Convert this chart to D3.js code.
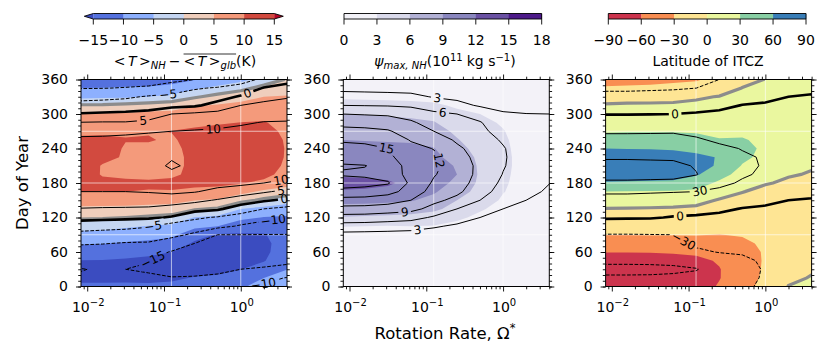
<!DOCTYPE html>
<html>
<head>
<meta charset="utf-8">
<script src="https://cdn.jsdelivr.net/npm/d3@7"></script>
<style>
  body { margin: 0; background: #fff; }
  svg { display: block; font-family: "DejaVu Sans", sans-serif; }
  text { white-space: pre; }
</style>
</head>
<body>
<svg id="chart" width="831" height="360"></svg>
<script>
//======= data =======//
// grid: columns = log10(rotation rate), rows = day of year
let rotationLog = [-2.1, -1.8, -1.5, -1.2, -0.9, -0.6, -0.3, 0.0, 0.3, 0.6];
let dayOfYear = [0, 15, 30, 45, 60, 75, 90, 105, 120, 135, 150, 165, 180, 195, 210, 225, 240, 255, 270, 285, 300, 315, 330, 345, 360];

// <T>_NH - <T>_glb (K), filled field
let tempFill = [
  [-14, -16.3, -16.8, -15.1, -12.4, -9.6, -6.6, -3.2, 0.7, 4.1, 7.1, 10, 11.8, 13, 13.5, 13.3, 12.5, 10.8, 9.1, 7.3, 5.6, 0.5, -6.3, -10, -12.5],
  [-14, -16.3, -16.8, -15.2, -12.6, -9.8, -6.8, -3.4, 0.5, 4, 7, 9.9, 11.2, 9.6, 9.6, 11.5, 12.4, 10.9, 9.2, 7.4, 5.7, 0.6, -6, -9.9, -12.4],
  [-14, -16.2, -16.8, -15.6, -13.2, -10.5, -7.4, -4.3, 0, 3.8, 7, 10, 10.5, 9.5, 9.4, 9.4, 9.5, 10.2, 9.5, 7.5, 5.7, 1.2, -5.8, -9.6, -12.2],
  [-14.2, -16.2, -16.9, -16, -14, -11.2, -8, -5.2, -0.6, 3.4, 6.8, 9.9, 10.3, 9.5, 9.2, 9.3, 9.5, 10.2, 9.8, 7.8, 6.2, 2, -5, -9.5, -12],
  [-14.3, -15.5, -16.8, -16.5, -15, -12, -8.9, -6, -1.4, 2.9, 6.6, 9.8, 10.8, 9.4, 9.2, 9.2, 9.3, 9.6, 10.1, 8.4, 6.4, 2.8, -3.6, -8.8, -11.5],
  [-13.8, -14.8, -16.5, -17, -16.6, -15.8, -13, -8.8, -5.2, 0.6, 5.1, 8.9, 11.2, 10.9, 10.7, 10.7, 10.9, 11.2, 10.8, 9, 6.8, 4.7, -0.6, -5.8, -10.3],
  [-13, -14.4, -16, -17, -17.2, -16.8, -15.5, -10, -6.1, -0.5, 4.4, 8.3, 11.2, 12.8, 13.4, 13.4, 13, 12.3, 11.2, 9.6, 7.4, 5.4, 1.5, -3.5, -8.7],
  [-10.5, -13, -15.1, -16.5, -17, -16.8, -15.6, -12.8, -8.8, -5, 1.6, 6.5, 10.3, 12.2, 13, 13.2, 13, 12.4, 11.4, 10.1, 8.2, 6.3, 3.2, -1.4, -6.5],
  [-8.5, -10, -13, -15.3, -16, -16, -15.3, -13.4, -10.2, -6.4, -1, 4, 9, 11.3, 12.3, 12.6, 12.4, 11.9, 11.1, 10.3, 8.7, 6.8, 5, 1.5, -2.8],
  [-7.5, -8.7, -10.1, -11.5, -12.5, -13, -12.8, -12, -10.6, -7.4, -3.2, 2.8, 7, 8.4, 9.2, 9.6, 9.7, 9.6, 9.3, 8.6, 7.6, 6.4, 5.4, 2.8, 0.4]
];
// <T>_NH - <T>_glb (K), line contours
let tempLines = [
  [-13.2, -14.8, -15.1, -14, -12.2, -9.5, -6.6, -2.6, 1.5, 4.8, 7.4, 10, 11.6, 12.6, 13, 13, 12.3, 11, 8.3, 5.2, 0.3, -3.3, -6.6, -10.2, -12.3],
  [-13.3, -14.6, -14.8, -14, -12.4, -9.8, -6.9, -3.3, 1.3, 4.6, 7.3, 10, 11.7, 12.7, 13.1, 13.1, 12.4, 11.1, 8.5, 5.4, 0.6, -2.8, -6.4, -10.1, -12.2],
  [-13.5, -14.6, -15, -14.2, -12.7, -10.3, -7.3, -3.7, 1, 4.5, 7.3, 10, 11.8, 12.8, 13.3, 13.3, 12.6, 11.3, 9, 5.4, 0.8, -2.3, -5.8, -9.8, -12],
  [-13.8, -14.6, -15.3, -14.9, -13.2, -10.4, -7.8, -4.6, 0.7, 4.3, 7.4, 10.3, 12.3, 13.6, 14.2, 14, 13.2, 11.8, 9.5, 6.5, 1.6, -2.2, -4.5, -9.4, -11.8],
  [-14, -14.9, -15.8, -16, -15.3, -12.3, -8.8, -7.5, -0.4, 3.2, 7.2, 11, 13, 14.6, 15.3, 14.8, 13.8, 12.2, 10, 7.6, 5, -1.6, -3.8, -7.5, -11.3],
  [-13.7, -14.8, -15.8, -16.5, -16.2, -15, -10.8, -7.6, -4.2, 2, 6.1, 10.3, 12.7, 14, 14.5, 14.3, 13.6, 12.3, 10.3, 8.2, 5.9, -0.8, -3, -5.4, -10],
  [-13, -14.5, -15.6, -16.4, -16.6, -16, -15, -8.6, -5.5, 0.8, 4.6, 8.6, 11.7, 13.2, 13.8, 13.7, 13.2, 12.1, 10.6, 8.6, 6.5, 1.9, -2, -4.6, -8.5],
  [-10.2, -12.6, -15, -16, -16.4, -16.2, -15, -10.5, -7, -2.6, 2.8, 7, 11.2, 12.8, 13.5, 13.5, 13.1, 12.2, 11, 9.5, 7.3, 5, 0.6, -3.2, -7],
  [-9.4, -11.3, -14.8, -15.6, -16, -15.9, -15.1, -12, -8.5, -5, 0.7, 5.6, 10, 12, 12.8, 13, 12.7, 12, 11, 10.2, 8.3, 6.2, 3.4, 0.3, -4],
  [-8.8, -9.8, -14.5, -15.4, -15.8, -15.7, -15.1, -12.6, -9.8, -6.2, -1, 3.8, 8.8, 11.4, 12.5, 12.8, 12.6, 12, 11.2, 10.3, 8.6, 6.7, 4.6, 2, -2]
];
// psi_max,NH (1e11 kg/s), filled field
let psiFill = [
  [0.3, 0.3, 0.4, 0.5, 0.7, 1, 1.8, 3.1, 5.8, 7.9, 9.9, 11.6, 13.4, 11.4, 10.8, 10.4, 9.8, 9, 8.1, 7, 6, 4.2, 2.5, 1.3, 0.7],
  [0.3, 0.3, 0.4, 0.5, 0.7, 1, 1.7, 3, 5.6, 7.8, 9.8, 11.5, 13, 11.3, 10.7, 10.3, 9.7, 8.9, 8, 6.9, 5.9, 4.1, 2.4, 1.3, 0.7],
  [0.3, 0.3, 0.4, 0.5, 0.7, 1, 1.6, 2.9, 5.4, 7.6, 9.6, 11.2, 12.4, 11.1, 10.6, 10.2, 9.6, 8.8, 7.9, 6.8, 5.7, 4, 2.3, 1.2, 0.7],
  [0.3, 0.3, 0.3, 0.4, 0.6, 0.9, 1.5, 3, 5.2, 7.4, 9.2, 10.5, 11.2, 11, 10.6, 10.1, 9.5, 8.7, 7.7, 6.6, 5.4, 3.8, 2.2, 1.2, 0.7],
  [0.2, 0.3, 0.3, 0.4, 0.6, 0.9, 1.4, 2.9, 4.6, 6.6, 8.2, 9.3, 9.9, 10.1, 10, 9.6, 9.1, 8.3, 7.3, 6.2, 5, 3.5, 2, 1.1, 0.6],
  [0.2, 0.2, 0.3, 0.4, 0.5, 0.8, 1.2, 2.3, 3.5, 4.9, 6, 7.3, 8.5, 9, 8.8, 8, 7, 6.2, 5.4, 4.4, 3.6, 2.6, 1.6, 0.9, 0.5],
  [0.2, 0.2, 0.2, 0.3, 0.4, 0.6, 0.9, 1.6, 2.4, 3.3, 4.2, 5, 5.4, 5.6, 5.5, 5.3, 4.9, 4.5, 4, 3.5, 3, 2.2, 1.3, 0.8, 0.4],
  [0.1, 0.1, 0.2, 0.2, 0.3, 0.4, 0.6, 1, 1.5, 2.1, 2.7, 3.1, 3.3, 3.4, 3.5, 3.5, 3.4, 3.3, 3.1, 2.8, 2.3, 1.6, 1, 0.6, 0.3],
  [0.1, 0.1, 0.1, 0.2, 0.2, 0.3, 0.4, 0.7, 1, 1.4, 1.7, 2, 2.1, 2.2, 2.2, 2.2, 2.2, 2.1, 2, 1.8, 1.5, 1.1, 0.7, 0.4, 0.2],
  [0.1, 0.1, 0.1, 0.1, 0.2, 0.2, 0.3, 0.5, 0.7, 0.9, 1.1, 1.3, 1.4, 1.4, 1.5, 1.5, 1.5, 1.4, 1.3, 1.2, 1, 0.8, 0.5, 0.3, 0.2]
];
// psi_max,NH (1e11 kg/s), line contours
let psiLines = [
  [0.2, 0.2, 0.3, 0.5, 0.8, 1.3, 2.2, 4.8, 7.9, 11, 14, 17, 19.5, 17.7, 18.3, 16.8, 15.8, 14.7, 13, 11, 9, 6, 4.1, 2.3, 1.2],
  [0.2, 0.2, 0.3, 0.5, 0.8, 1.3, 2.1, 4.7, 7.8, 10.9, 13.9, 16.8, 19, 17.5, 18.1, 16.5, 15.6, 14.5, 12.8, 10.8, 8.8, 5.9, 4, 2.2, 1.2],
  [0.2, 0.2, 0.3, 0.5, 0.8, 1.2, 2, 4.5, 7.4, 10.5, 13.3, 16, 18.3, 16.7, 16.8, 15.6, 15, 13.8, 12.3, 10.5, 8.6, 5.8, 3.9, 2.1, 1.1],
  [0.2, 0.2, 0.3, 0.4, 0.7, 1.2, 1.9, 4.2, 7, 9.9, 12, 13.8, 14.4, 14, 13.8, 13.4, 12.8, 11.8, 10.6, 9.4, 7.9, 5.5, 3.7, 2, 1.1],
  [0.2, 0.2, 0.3, 0.4, 0.7, 1.1, 1.8, 3.3, 5.6, 8, 9.7, 10.8, 11.6, 12.2, 12.6, 12.5, 11.9, 10.5, 9, 7.8, 6.5, 4.8, 2.8, 1.7, 1],
  [0.2, 0.2, 0.3, 0.4, 0.6, 1, 1.6, 2.6, 4.2, 6, 8.2, 9.6, 10.2, 10.5, 10.4, 10, 9.5, 8.6, 7.6, 6.8, 6, 3.8, 2.4, 1.5, 0.9],
  [0.2, 0.2, 0.2, 0.3, 0.5, 0.9, 1.4, 2.2, 3, 4.5, 6, 7.2, 7.9, 8.3, 8.4, 8.2, 7.8, 7.2, 6.6, 6.2, 4.8, 2.7, 2, 1.3, 0.8],
  [0.1, 0.2, 0.2, 0.3, 0.4, 0.7, 1.1, 1.7, 2.4, 3, 3.9, 4.8, 5.4, 5.9, 6.2, 6.3, 6.2, 5.7, 5, 4.1, 3.3, 2.2, 1.6, 1.1, 0.7],
  [0.1, 0.1, 0.2, 0.2, 0.3, 0.6, 0.9, 1.4, 1.9, 2.4, 3, 3.6, 4, 4.3, 4.5, 4.5, 4.4, 4.1, 3.8, 3.4, 3.05, 2.1, 1.5, 1, 0.6],
  [0.1, 0.1, 0.1, 0.2, 0.3, 0.5, 0.7, 1.1, 1.5, 1.9, 2.3, 2.7, 3.05, 3.3, 3.5, 3.5, 3.4, 3.3, 3.2, 3.1, 3, 2, 1.4, 0.9, 0.5]
];
// latitude of ITCZ (deg), filled field
let itczFill = [
  [-75, -78, -76, -70, -59.5, -45, -29.5, -20, -10, -1, 15, 30, 58, 72, 75, 70, 60, 45, 27, 17, 9, 2, -10, -28, -38],
  [-75, -78, -76, -70, -59.5, -45, -29.5, -20, -10, -1.5, 14, 29, 57, 72, 75, 70, 59.5, 45, 28, 18, 10, 3, -9, -27, -37],
  [-74, -77, -75, -69, -59, -44, -29, -19, -10, -2, 13, 28, 56, 71, 74, 69, 59, 45, 28, 18, 10, 3, -8, -26, -36],
  [-73, -76, -74, -68, -58, -43, -29, -19, -10, -3, 12, 27, 55, 70, 73, 68, 58, 44, 28, 18, 10, 3.5, -7, -24, -34],
  [-70, -73, -71, -65, -56, -42, -29, -20, -12, -5, 8, 24, 45, 63, 66, 64, 55, 40, 27, 18, 11, 5, -3, -22, -32],
  [-58, -61, -61, -58, -52, -40, -30.5, -22, -15, -8, -2, 12, 24, 42, 58, 59, 50, 32, 22, 16, 11, 6, 1, -12, -24],
  [-42, -45, -46, -45, -42, -36, -28, -22, -16, -10, -5, 0.5, 8, 18, 28, 37, 40, 33, 22, 16, 11, 7, 4, 0.5, -6],
  [-20, -24, -26, -27, -27, -25, -23, -20, -16, -12, -8, -4, 1, 7, 13, 21, 24, 22, 16, 13, 10, 7, 5, 2.5, 0.5],
  [0.5, -4, -8, -11, -13, -14, -14, -13, -12, -10, -7, -4.5, -2, 1, 5, 9, 11, 12, 11, 10, 9, 8, 7, 6, 5],
  [4, 1, -2, -4, -5, -6, -6.5, -6.5, -6, -5, -4, -3, -2, -0.8, 1, 3, 5, 6, 6, 6, 6, 6, 6, 6, 6]
];
// latitude of ITCZ (deg), line contours
let itczLines = [
  [-50, -58, -64, -57, -48, -40, -31, -16, 3, 12, 22, 33, 57, 66, 68, 57, 50, 40, 26, 12, -1, -12, -23, -34, -40],
  [-50, -58, -64, -57, -48, -40, -31, -16, 2.5, 12, 22, 33, 57, 66, 68, 57, 50, 40, 26, 12, -1, -12, -23, -34, -40],
  [-49, -58, -63.5, -57, -48, -39, -30.5, -16, 2, 11, 21, 32, 56.5, 65.5, 67, 56.5, 49.5, 40, 26.5, 12.5, -0.5, -11.5, -22.5, -33, -39],
  [-48, -57, -63, -56, -47, -38, -30, -17, -1.5, 10, 20, 31, 56, 65, 66, 56, 49, 40, 27, 13, 0, -11, -22, -32, -38],
  [-45, -55, -61, -52, -34, -26, -22, -14, -3, 8, 18, 30, 48, 61, 58, 50, 42, 33, 24, 12, 2, -9, -20, -30, -36],
  [-42, -48, -50, -42, -29, -22, -18, -12, -5, 4, 14, 25, 36, 44, 46, 43, 35, 26, 18, 10, 3, -4, -13, -21, -30],
  [-36, -38, -38, -34, -28, -21, -16, -10, -5, -1, 8, 18, 27, 33, 35, 33, 29, 22, 16, 10, 5, 0.5, -6, -13, -20],
  [-24, -27, -28, -27, -24, -20, -15, -10, -6, -2.5, 4, 12, 20, 26, 28, 28, 25, 20, 14, 9, 5, 1.5, -3, -9, -15],
  [-14, -17, -19, -19, -18, -15, -12, -9, -6, -3, 0, 7, 13, 18, 20, 20, 18, 15, 11, 8, 5, 2.5, 0, -4, -9],
  [-8, -11, -13, -14, -13, -11, -9, -7, -5, -3, -1.2, 4, 9, 13, 15, 15, 14, 12, 9, 7, 4.5, 2.5, 0.8, -2, -6]
];

let tempLevels = [-15, -10, -5, 0, 5, 10, 15];
let psiLevels = [0, 3, 6, 9, 12, 15, 18];
let itczLevels = [-90, -60, -30, 0, 30, 60, 90];

// coolwarm (with under/over), Purples, Spectral
let tempColors = ['#3b4cc0', '#5471de', '#8db0fe', '#c5d6f2', '#efcebc', '#f49a7b', '#d24a3f', '#b40426'];
let psiColors = ['#f3f2f8', '#dadaeb', '#b2b1d5', '#8a87bf', '#6a51a3', '#4d1a89'];
let itczColors = ['#cc344d', '#f98e52', '#fee594', '#eaf79f', '#88cfa4', '#397eb8'];

let xTickValues = [0.01, 0.1, 1];
let xTickExp = ['\u22122', '\u22121', '0'];
let xMinorValues = [0.009, 0.02, 0.03, 0.04, 0.05, 0.06, 0.07, 0.08, 0.09, 0.2, 0.3, 0.4, 0.5, 0.6, 0.7, 0.8, 0.9, 2, 3, 4];
let dayTicks = [0, 60, 120, 180, 240, 300, 360];
let gridRotation = [0.125, 1];
let gridDays = [90, 180, 270];

//======= layout =======//
let svg = d3.select('#chart');
let defs = svg.append('defs');
let plotTop = 79.5, plotBottom = 286.5, plotW = 206;
let panelLeft = [81, 343.3, 605.6];
let xDomain = [0.0083, 4.0];
let y = d3.scaleLinear().domain([0, 360]).range([plotBottom, plotTop]);
let nx = rotationLog.length, ny = dayOfYear.length;
let colIdx = d3.scaleLinear().domain(rotationLog.map((d, i) => i)).range(rotationLog);
let rowIdx = d3.scaleLinear().domain(dayOfYear.map((d, i) => i)).range(dayOfYear);
let minus = v => (v < 0 ? '\u2212' + (-v) : '' + v);

function flat(cols) {
  let v = new Array(nx * ny);
  for (let i = 0; i < nx; i++)
    for (let j = 0; j < ny; j++) v[j * nx + i] = cols[i][j];
  return v;
}

// text made of pieces (sub/superscripts, overline), centred on cx
function richText(parent, pieces, cx, baseY) {
  let g = parent.append('g');
  let pos = 0, overs = [];
  pieces.forEach(pc => {
    let x0 = pos + (pc.dx || 0);
    let t = g.append('text')
      .attr('x', x0).attr('y', baseY + (pc.dy || 0))
      .attr('font-size', pc.size || 14)
      .attr('font-style', pc.it ? 'italic' : 'normal')
      .text(pc.t);
    let w = t.node().getComputedTextLength();
    if (pc.over) overs.push(x0, x0 + w);
    pos = x0 + w;
  });
  if (overs.length) {
    g.append('line').attr('x1', d3.min(overs)).attr('x2', d3.max(overs))
      .attr('y1', baseY - 12).attr('y2', baseY - 12)
      .attr('stroke', 'black').attr('stroke-width', 0.8);
  }
  g.attr('transform', 'translate(' + (cx - pos / 2) + ',0)');
  return g;
}

let panels = [
  { fill: tempFill, lines: tempLines, fillLevels: [-15, -10, -5, 0, 5, 10, 15], colors: tempColors,
    lineLevels: tempLevels, gray: true,
    labels: [[-5, 168, 92], [0, 247, 92], [5, 143, 118], [10, 213, 123], [10, 281, 180], [5, 281, 190],
             [0, 284, 197], [-10, 273, 218], [-5, 153, 225], [-15, 152, 258], [-10, 263, 282]] },
  { fill: psiFill, lines: psiLines, fillLevels: [3, 6, 9, 12, 15], colors: psiColors,
    lineLevels: [3, 6, 9, 12, 15, 18], gray: false,
    labels: [[3, 437, 100], [6, 443, 110], [15, 388, 142], [12, 442, 160], [9, 405, 217], [3, 418, 233]] },
  { fill: itczFill, lines: itczLines, fillLevels: [-60, -30, 0, 30, 60], colors: itczColors,
    lineLevels: itczLevels, gray: true,
    labels: [[0, 675, 112], [30, 700, 192], [0, 680, 214], [-30, 683, 242]] }
];

//======= panels =======//
panels.forEach((p, k) => {
  let left = panelLeft[k];
  let x = d3.scaleLog().domain(xDomain).range([left, left + plotW]);
  let px = gx => x(Math.pow(10, colIdx(gx - 0.5)));
  let py = gy => y(rowIdx(gy - 0.5));
  let path = d3.geoPath(d3.geoTransform({
    point: function (a, b) { this.stream.point(px(a), py(b)); }
  }));
  let gen = d3.contours().size([nx, ny]);
  let fillVals = flat(p.fill);
  let lineVals = flat(p.lines);

  defs.append('clipPath').attr('id', 'clip' + k).append('rect')
    .attr('x', left).attr('y', plotTop).attr('width', plotW).attr('height', plotBottom - plotTop);

  let body = svg.append('g').attr('clip-path', 'url(#clip' + k + ')');

  // filled contours
  body.append('rect').attr('x', left).attr('y', plotTop).attr('width', plotW)
    .attr('height', plotBottom - plotTop).attr('fill', p.colors[0]);
  gen.thresholds(p.fillLevels)(fillVals).forEach((c, i) => {
    body.append('path').attr('d', path(c)).attr('fill', p.colors[i + 1]).attr('fill-rule', 'evenodd');
  });

  // grid
  gridRotation.forEach(v => body.append('line')
    .attr('x1', x(v)).attr('x2', x(v)).attr('y1', plotTop).attr('y2', plotBottom)
    .attr('stroke', 'white').attr('stroke-opacity', 0.7).attr('stroke-width', 0.9));
  gridDays.forEach(v => body.append('line')
    .attr('x1', left).attr('x2', left + plotW).attr('y1', y(v)).attr('y2', y(v))
    .attr('stroke', 'white').attr('stroke-opacity', 0.7).attr('stroke-width', 0.9));

  // zero of the filled field in grey
  if (p.gray) {
    body.append('path').attr('d', path(gen.thresholds([0])(fillVals)[0]))
      .attr('fill', 'none').attr('stroke', '#8c8c8c').attr('stroke-width', 3.2);
  }

  // line contours (masked under labels)
  let mask = defs.append('mask').attr('id', 'mask' + k).attr('maskUnits', 'userSpaceOnUse')
    .attr('x', 0).attr('y', 0).attr('width', 831).attr('height', 360);
  mask.append('rect').attr('width', 831).attr('height', 360).attr('fill', 'white');
  let lineG = body.append('g').attr('mask', 'url(#mask' + k + ')');
  let lineContours = {};
  p.lineLevels.forEach(v => {
    let c = gen.thresholds([v])(lineVals)[0];
    lineContours[v] = c;
    lineG.append('path').attr('d', path(c)).attr('fill', 'none').attr('stroke', 'black')
      .attr('stroke-width', v === 0 ? 2.6 : 1)
      .attr('stroke-dasharray', v < 0 ? '3.7,1.6' : null);
  });

  // inline labels
  let labG = svg.append('g');
  p.labels.forEach(([v, tx, ty]) => {
    let c = lineContours[v];
    if (!c) return;
    let best = null;
    c.coordinates.forEach(poly => poly.forEach(ring => {
      let pts = ring.map(q => [px(q[0]), py(q[1])]);
      for (let i = 0; i < pts.length - 1; i++) {
        let a = pts[i], b = pts[i + 1];
        let dx = b[0] - a[0], dy = b[1] - a[1], L = dx * dx + dy * dy;
        let t = L > 0 ? Math.max(0, Math.min(1, ((tx - a[0]) * dx + (ty - a[1]) * dy) / L)) : 0;
        let qx = a[0] + t * dx, qy = a[1] + t * dy;
        if (qx < left + 1 || qx > left + plotW - 0.5 || qy < plotTop + 1 || qy > plotBottom - 1) continue;
        let d = Math.hypot(qx - tx, qy - ty);
        if (!best || d < best.d) best = { d: d, x: qx, y: qy, ang: Math.atan2(dy, dx) * 180 / Math.PI };
      }
    }));
    if (!best || best.d > 25) return;
    let ang = best.ang;
    if (ang > 90) ang -= 180;
    if (ang < -90) ang += 180;
    let t = labG.append('text').attr('font-size', 12).attr('text-anchor', 'middle')
      .attr('dy', '0.36em')
      .attr('transform', 'translate(' + best.x + ',' + best.y + ') rotate(' + ang + ')')
      .text(minus(v));
    let w = t.node().getComputedTextLength() + 5;
    mask.append('rect').attr('x', -w / 2).attr('y', -6).attr('width', w).attr('height', 12)
      .attr('fill', 'black')
      .attr('transform', 'translate(' + best.x + ',' + best.y + ') rotate(' + ang + ')');
  });

  // axes
  let ax = svg.append('g');
  ax.append('g').attr('transform', 'translate(0,' + plotBottom + ')')
    .call(d3.axisBottom(x).tickValues(xTickValues).tickSize(5).tickFormat(''));
  ax.append('g').attr('transform', 'translate(0,' + plotBottom + ')')
    .call(d3.axisBottom(x).tickValues(xMinorValues).tickSize(2.8).tickFormat(''));
  ax.append('g').attr('transform', 'translate(0,' + plotTop + ')')
    .call(d3.axisTop(x).tickValues(xTickValues).tickSize(5).tickFormat(''));
  ax.append('g').attr('transform', 'translate(0,' + plotTop + ')')
    .call(d3.axisTop(x).tickValues(xMinorValues).tickSize(2.8).tickFormat(''));
  ax.append('g').attr('transform', 'translate(' + left + ',0)')
    .call(d3.axisLeft(y).tickValues(dayTicks).tickSize(5).tickPadding(8).tickFormat(d3.format('d')))
    .attr('font-size', 14).attr('font-family', null);
  ax.append('g').attr('transform', 'translate(' + left + ',0)')
    .call(d3.axisLeft(y).tickValues(d3.range(0, 361, 10)).tickSize(2.8).tickFormat(''));
  ax.append('g').attr('transform', 'translate(' + (left + plotW) + ',0)')
    .call(d3.axisRight(y).tickValues(dayTicks).tickSize(5).tickFormat(''));
  ax.append('g').attr('transform', 'translate(' + (left + plotW) + ',0)')
    .call(d3.axisRight(y).tickValues(d3.range(0, 361, 10)).tickSize(2.8).tickFormat(''));
  ax.selectAll('.domain').remove();
  ax.selectAll('.tick line').attr('stroke-width', 0.9);
  ax.selectAll('text').attr('fill', 'black');

  xTickValues.forEach((v, i) => {
    richText(svg, [{ t: '10' }, { t: xTickExp[i], size: 10, dy: -5.5 }], x(v) + 1, 311.5);
  });

  svg.append('rect').attr('x', left).attr('y', plotTop).attr('width', plotW)
    .attr('height', plotBottom - plotTop).attr('fill', 'none')
    .attr('stroke', 'black').attr('stroke-width', 1);
});

//======= colorbars =======//
let colorbars = [
  { x0: 93.3, x1: 274.3, levels: tempLevels, colors: tempColors.slice(1, 7), under: tempColors[0], over: tempColors[7] },
  { x0: 344, x1: 541.7, levels: psiLevels, colors: psiColors },
  { x0: 608.3, x1: 806, levels: itczLevels, colors: itczColors }
];
let cbTop = 13.5, cbH = 5.5, ext = 9;
colorbars.forEach(cb => {
  let s = d3.scaleLinear().domain([cb.levels[0], cb.levels[cb.levels.length - 1]]).range([cb.x0, cb.x1]);
  let g = svg.append('g');
  cb.colors.forEach((c, i) => {
    g.append('rect').attr('x', s(cb.levels[i])).attr('y', cbTop)
      .attr('width', s(cb.levels[i + 1]) - s(cb.levels[i]) + 0.3).attr('height', cbH).attr('fill', c);
  });
  let mid = cbTop + cbH / 2, bot = cbTop + cbH;
  let outline;
  if (cb.under) {
    g.append('path').attr('d', 'M' + cb.x0 + ',' + cbTop + 'L' + (cb.x0 - ext) + ',' + mid + 'L' + cb.x0 + ',' + bot + 'Z').attr('fill', cb.under);
    g.append('path').attr('d', 'M' + cb.x1 + ',' + cbTop + 'L' + (cb.x1 + ext) + ',' + mid + 'L' + cb.x1 + ',' + bot + 'Z').attr('fill', cb.over);
    outline = 'M' + cb.x0 + ',' + cbTop + 'L' + cb.x1 + ',' + cbTop + 'L' + (cb.x1 + ext) + ',' + mid + 'L' + cb.x1 + ',' + bot +
      'L' + cb.x0 + ',' + bot + 'L' + (cb.x0 - ext) + ',' + mid + 'Z';
  } else {
    outline = 'M' + cb.x0 + ',' + cbTop + 'L' + cb.x1 + ',' + cbTop + 'L' + cb.x1 + ',' + bot + 'L' + cb.x0 + ',' + bot + 'Z';
  }
  g.append('path').attr('d', outline).attr('fill', 'none').attr('stroke', 'black').attr('stroke-width', 0.9);
  cb.levels.forEach(v => {
    g.append('line').attr('x1', s(v)).attr('x2', s(v)).attr('y1', bot).attr('y2', bot + 5.5)
      .attr('stroke', 'black').attr('stroke-width', 0.9);
    g.append('text').attr('x', s(v)).attr('y', 44.5).attr('text-anchor', 'middle')
      .attr('font-size', 14).text(minus(v));
  });
});

richText(svg, [
  { t: '<' }, { t: 'T', it: 1, dx: 2.5 }, { t: '>', dx: 2.5 }, { t: 'NH', it: 1, size: 10, dy: 3 },
  { t: '\u2212', dx: 3 },
  { t: '<', dx: 3, over: 1 }, { t: 'T', it: 1, dx: 2.5, over: 1 }, { t: '>', dx: 2.5, over: 1 },
  { t: 'glb', it: 1, size: 10, dy: 3, over: 1 }, { t: '(K)' }
], 185, 66);
richText(svg, [
  { t: '\u03c8', it: 1 }, { t: 'max, NH', it: 1, size: 10, dy: 3 }, { t: '(10' },
  { t: '11', size: 10, dy: -5.5 }, { t: 'kg s', dx: 4 }, { t: '\u22121', size: 10, dy: -5.5 }, { t: ')' }
], 445, 66);
svg.append('text').attr('x', 708).attr('y', 66).attr('text-anchor', 'middle')
  .attr('font-size', 14).text('Latitude of ITCZ');

//======= axis titles =======//
svg.append('text').attr('transform', 'translate(28,183) rotate(-90)')
  .attr('text-anchor', 'middle').attr('font-size', 16.5).text('Day of Year');
richText(svg, [{ t: 'Rotation Rate, \u03a9', size: 16.5 }, { t: '*', size: 11.5, dy: -7 }], 445, 339);
</script>
</body>
</html>
